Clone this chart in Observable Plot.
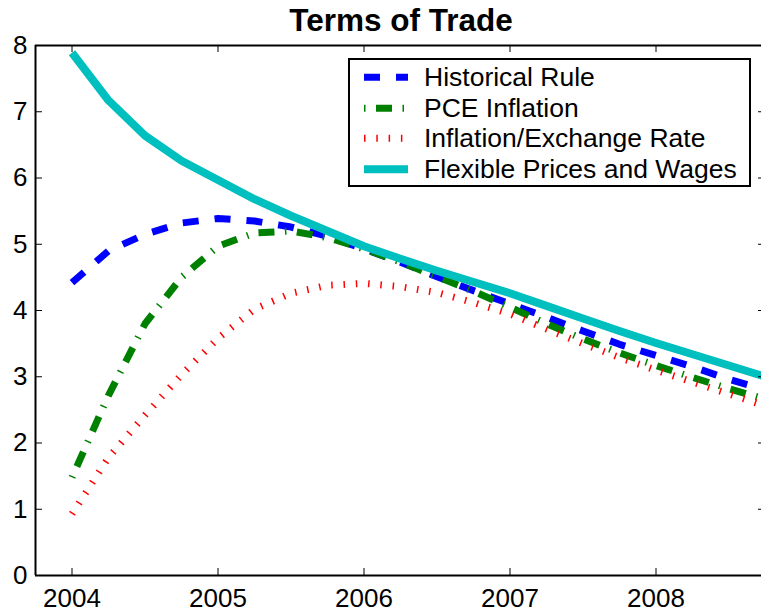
<!DOCTYPE html>
<html>
<head>
<meta charset="utf-8">
<script src="https://cdn.jsdelivr.net/npm/d3@7"></script>
<script src="https://cdn.jsdelivr.net/npm/@observablehq/plot@0.6"></script>
<style>
  body { margin: 0; background: #fff; font-family: "Liberation Sans", Arial, sans-serif; }
  #wrap { position: relative; width: 761px; height: 616px; overflow: hidden; background: #fff; }
  #chart { position: absolute; left: 0; top: 0; }
  #title { position: absolute; left: 0; top: 0; width: 802px; height: 40px; line-height: 40px;
           text-align: center; font-weight: bold; font-size: 31.5px; color: #000; }
  #legend { position: absolute; left: 348px; top: 58px; width: 399px; height: 123px;
            border: 2px solid #000; background: #fff; padding-top: 2px; box-sizing: content-box; }
  .row { position: relative; height: 30.5px; }
  .row svg { position: absolute; left: 14px; top: 0; }
  .row span { position: absolute; left: 74px; top: 0; line-height: 30.5px; font-size: 26.5px; color: #000; white-space: nowrap; }
</style>
</head>
<body>
<div id="wrap">
  <div id="chart"></div>
  <div id="title"></div>
  <div id="legend"></div>
</div>
<script>
// ---- data ----
const title = "Terms of Trade";
const years = [2004, 2004.25, 2004.5, 2004.75, 2005, 2005.25, 2005.5, 2005.75,
               2006, 2006.25, 2006.5, 2006.75, 2007, 2007.25, 2007.5, 2007.75,
               2008, 2008.25, 2008.5, 2008.75];
const historicalRule = [4.42, 4.90, 5.15, 5.32, 5.39, 5.35, 5.26, 5.12, 4.93, 4.73,
                        4.51, 4.30, 4.10, 3.90, 3.69, 3.49, 3.32, 3.15, 2.96, 2.80];
const pceInflation   = [1.48, 2.72, 3.80, 4.50, 4.97, 5.17, 5.20, 5.10, 4.93, 4.73,
                        4.51, 4.29, 4.05, 3.80, 3.57, 3.36, 3.17, 2.99, 2.82, 2.66];
const inflExchange   = [0.93, 1.78, 2.42, 3.03, 3.58, 4.02, 4.26, 4.38, 4.41, 4.36,
                        4.27, 4.12, 3.95, 3.72, 3.50, 3.29, 3.10, 2.92, 2.74, 2.56];
const flexible       = [7.89, 7.17, 6.64, 6.26, 5.97, 5.68, 5.43, 5.20, 4.97, 4.78,
                        4.60, 4.43, 4.26, 4.07, 3.88, 3.69, 3.51, 3.34, 3.17, 3.00];
const seriesNames = ["Historical Rule", "PCE Inflation", "Inflation/Exchange Rate", "Flexible Prices and Wages"];
const xTicks = [2004, 2005, 2006, 2007, 2008];
const yTicks = [0, 1, 2, 3, 4, 5, 6, 7, 8];
const xDomain = [2003.75, 2008.75];
const yDomain = [0, 8];

// ---- styles ----
const styles = [
  {stroke: "#0000ff", strokeWidth: 7, dash: "16 16"},
  {stroke: "#008000", strokeWidth: 7, dash: "1.5 10.5 16 10.5"},
  {stroke: "#ff0000", strokeWidth: 7, dash: "1.5 10.8"},
  {stroke: "#00bfbf", strokeWidth: 8, dash: null}
];
const allSeries = [historicalRule, pceInflation, inflExchange, flexible];

const toRows = (vals) => years.map((x, i) => ({x, y: vals[i]}));

document.getElementById("title").textContent = title;

const marks = [];
allSeries.forEach((vals, k) => {
  const s = styles[k];
  marks.push(Plot.line(toRows(vals), {
    x: "x", y: "y", stroke: s.stroke, strokeWidth: s.strokeWidth,
    strokeDasharray: s.dash, strokeLinecap: "butt", strokeLinejoin: "round"
  }));
});

// frame
marks.push(Plot.ruleX(xDomain, {stroke: "#000", strokeWidth: 2}));
marks.push(Plot.ruleY(yDomain, {stroke: "#000", strokeWidth: 2}));
// inward ticks (bottom, top, left, right)
marks.push(Plot.tickX(xTicks, {x: d => d, insetTop: 523, stroke: "#000", strokeWidth: 1}));
marks.push(Plot.tickX(xTicks, {x: d => d, insetBottom: 523, stroke: "#000", strokeWidth: 1}));
marks.push(Plot.tickY(yTicks, {y: d => d, insetRight: 723, stroke: "#000", strokeWidth: 1}));
marks.push(Plot.tickY(yTicks, {y: d => d, insetLeft: 723, stroke: "#000", strokeWidth: 1}));
// axis labels
marks.push(Plot.axisX({ticks: xTicks, tickFormat: d => String(d), tickSize: 0, tickPadding: 13, fontSize: 26, fill: "#000"}));
marks.push(Plot.axisY({ticks: yTicks, tickSize: 0, tickPadding: 8, fontSize: 26, fill: "#000"}));

const chart = Plot.plot({
  width: 761,
  height: 616,
  marginTop: 45,
  marginBottom: 41,
  marginLeft: 35,
  marginRight: -4,
  style: {fontFamily: "'Liberation Sans', Arial, sans-serif", fontSize: "26px", color: "#000", background: "#fff", maxWidth: "none", overflow: "hidden"},
  x: {domain: xDomain, label: null},
  y: {domain: yDomain, label: null},
  marks
});
document.getElementById("chart").appendChild(chart);

// legend
const legend = document.getElementById("legend");
seriesNames.forEach((name, k) => {
  const s = styles[k];
  const row = document.createElement("div");
  row.className = "row";
  const svgNS = "http://www.w3.org/2000/svg";
  const svg = document.createElementNS(svgNS, "svg");
  svg.setAttribute("width", 44);
  svg.setAttribute("height", 30.5);
  const ln = document.createElementNS(svgNS, "line");
  ln.setAttribute("x1", 0); ln.setAttribute("x2", 44);
  ln.setAttribute("y1", 15.25); ln.setAttribute("y2", 15.25);
  ln.setAttribute("stroke", s.stroke);
  ln.setAttribute("stroke-width", s.strokeWidth);
  if (s.dash) ln.setAttribute("stroke-dasharray", s.dash);
  svg.appendChild(ln);
  const span = document.createElement("span");
  span.textContent = name;
  row.appendChild(svg);
  row.appendChild(span);
  legend.appendChild(row);
});
</script>
</body>
</html>
